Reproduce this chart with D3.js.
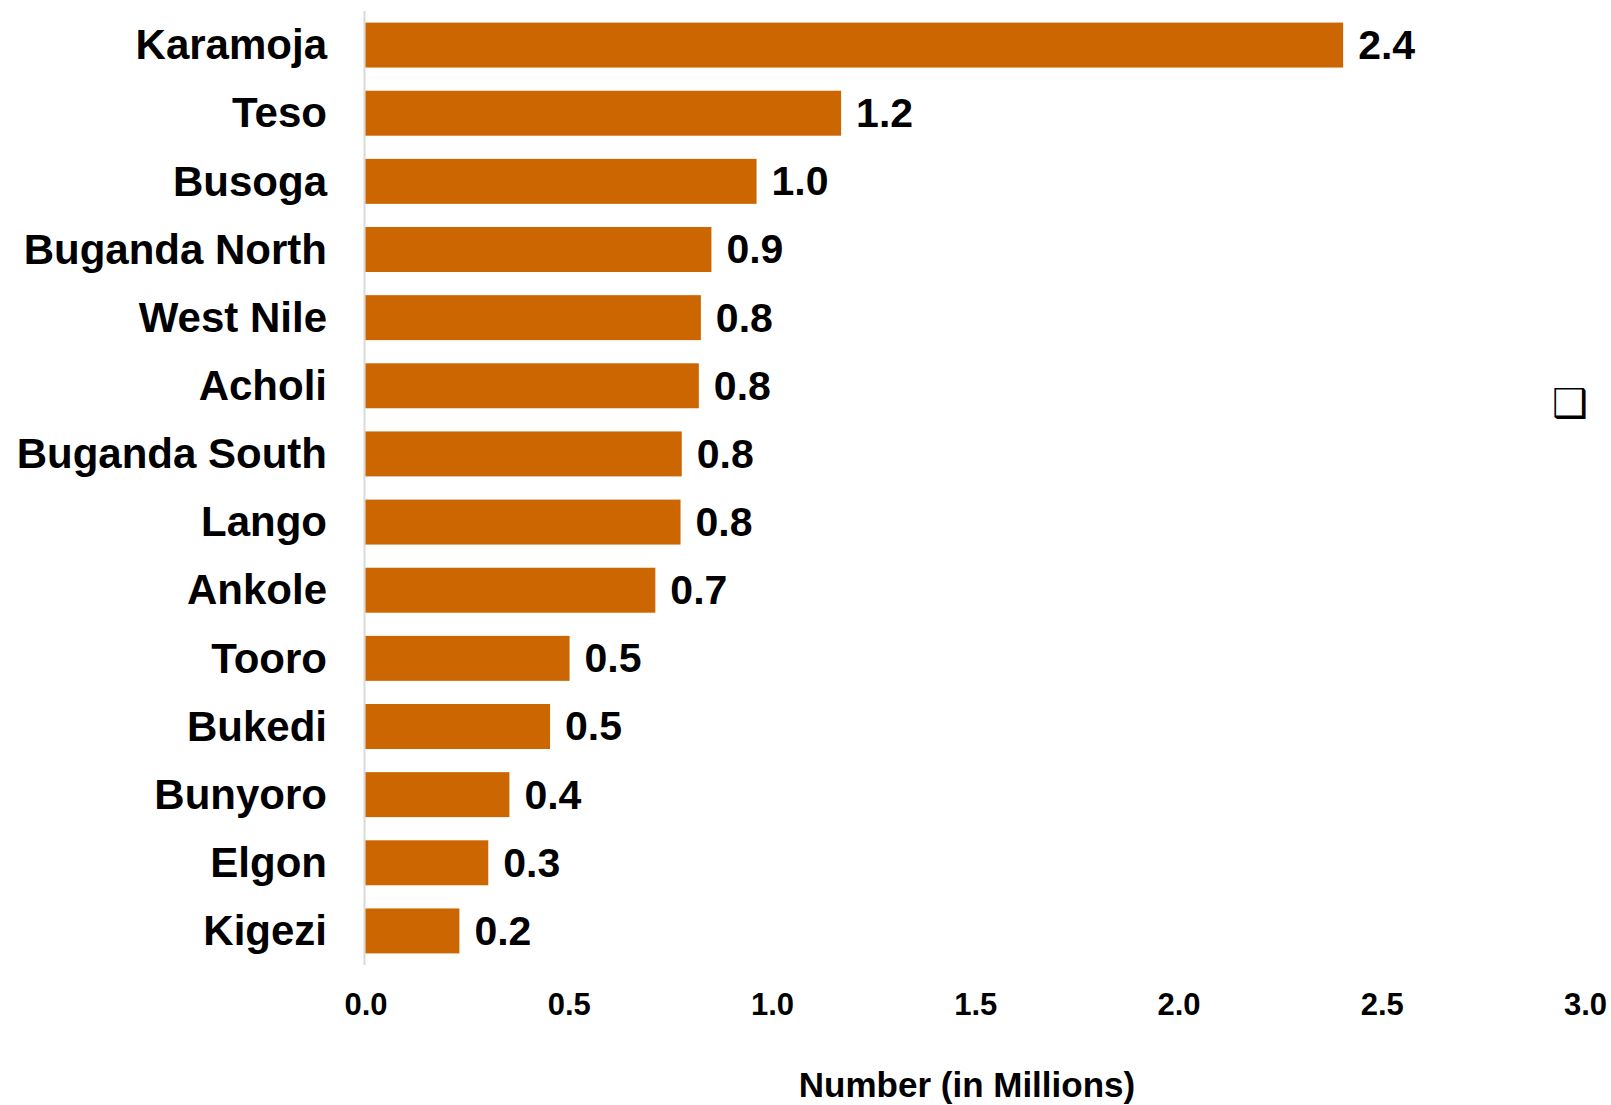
<!DOCTYPE html>
<html>
<head>
<meta charset="utf-8">
<script src="https://cdn.jsdelivr.net/npm/d3@7/dist/d3.min.js"></script>
<style>
  html, body { margin: 0; padding: 0; background: #fff; }
  svg { display: block; }
  text { font-family: "Liberation Sans", Arial, sans-serif; font-weight: bold; fill: #000; }
</style>
</head>
<body>
<svg id="chart" width="1611" height="1105"></svg>
<script>
const categories = ["Karamoja", "Teso", "Busoga", "Buganda North", "West Nile", "Acholi",
  "Buganda South", "Lango", "Ankole", "Tooro", "Bukedi", "Bunyoro", "Elgon", "Kigezi"];
const values = [2.405, 1.17, 0.962, 0.851, 0.825, 0.82, 0.778, 0.775, 0.713, 0.502, 0.454, 0.354, 0.302, 0.231];
const valueLabels = ["2.4", "1.2", "1.0", "0.9", "0.8", "0.8", "0.8", "0.8", "0.7", "0.5", "0.5", "0.4", "0.3", "0.2"];
const xTicks = [0, 0.5, 1.0, 1.5, 2.0, 2.5, 3.0];
const xTitle = "Number (in Millions)";

const svg = d3.select("#chart");
const x = d3.scaleLinear().domain([0, 3]).range([365.5, 1585]);
const y = d3.scaleBand().domain(categories).range([11, 965]).paddingInner(0.34).paddingOuter(0.17);

// axis line
svg.append("line")
  .attr("x1", 364.5).attr("x2", 364.5)
  .attr("y1", 11).attr("y2", 965)
  .attr("stroke", "#d9d9d9").attr("stroke-width", 2);

// bars
svg.append("g").selectAll("rect").data(categories).join("rect")
  .attr("x", x(0))
  .attr("y", d => y(d))
  .attr("width", (d, i) => x(values[i]) - x(0))
  .attr("height", y.bandwidth())
  .attr("fill", "#cc6600");

// value labels
svg.append("g").selectAll("text").data(categories).join("text")
  .attr("x", (d, i) => x(values[i]) + 15)
  .attr("y", d => y(d) + y.bandwidth() / 2)
  .attr("dy", "0.34em")
  .attr("font-size", 41)
  .text((d, i) => valueLabels[i]);

// category labels
svg.append("g").selectAll("text").data(categories).join("text")
  .attr("x", 327)
  .attr("y", d => y(d) + y.bandwidth() / 2)
  .attr("dy", "0.34em")
  .attr("text-anchor", "end")
  .attr("font-size", 42)
  .text(d => d);

// x tick labels
const xAxis = d3.axisBottom(x).tickValues(xTicks).tickFormat(d3.format(".1f")).tickSize(0).tickPadding(0);
const gx = svg.append("g").attr("transform", "translate(0,993)").call(xAxis);
gx.select(".domain").remove();
gx.selectAll("text")
  .attr("font-size", 31)
  .attr("font-family", "Liberation Sans, Arial, sans-serif")
  .attr("font-weight", "bold")
  .attr("fill", "#000");

// axis title
svg.append("text")
  .attr("x", 967).attr("y", 1097)
  .attr("text-anchor", "middle")
  .attr("font-size", 35)
  .text(xTitle);

// stray bullet glyph
svg.append("text")
  .attr("x", 1570).attr("y", 403)
  .attr("text-anchor", "middle")
  .attr("dy", "0.36em")
  .style("font-family", "DejaVu Sans")
  .style("font-weight", "normal")
  .attr("font-size", 40)
  .text("\u2751");
</script>
</body>
</html>
